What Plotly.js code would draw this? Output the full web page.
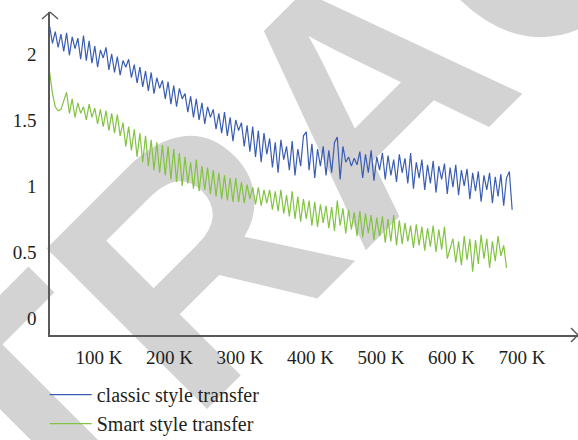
<!DOCTYPE html>
<html>
<head>
<meta charset="utf-8">
<script src="https://cdn.plot.ly/plotly-3.0.1.min.js"></script>
<style>
  html, body { margin: 0; padding: 0; background: #ffffff; }
  #wrap { position: relative; width: 578px; height: 440px; overflow: hidden; background: #ffffff; }
  #wm { position: absolute; left: 0; top: 0; width: 578px; height: 440px; }
  #chart { position: absolute; left: 0; top: 0; width: 578px; height: 440px; }
</style>
</head>
<body>
<div id="wrap">
  <svg id="wm" width="578" height="440" xmlns="http://www.w3.org/2000/svg">
    <text id="wmtext" font-family="Liberation Sans" font-weight="bold" font-size="330" fill="#d3d3d3">RETRACTED</text>
  </svg>
  <div id="chart"></div>
</div>
<script>
// Training steps (thousands)
const steps = [30,34,38,42,46,50,54,58,62,66,70,74,78,82,86,90,94,98,102,106,110,114,118,122,126,130,134,138,142,146,150,154,158,162,166,170,174,178,182,186,190,194,198,202,206,210,214,218,222,226,230,234,238,242,246,250,254,258,262,266,270,274,278,282,286,290,294,298,302,306,310,314,318,322,326,330,334,338,342,346,350,354,358,362,366,370,374,378,382,386,390,394,398,402,406,410,414,418,422,426,430,434,438,442,446,450,454,458,462,466,470,474,478,482,486,490,494,498,502,506,510,514,518,522,526,530,534,538,542,546,550,554,558,562,566,570,574,578,582,586,590,594,598,602,606,610,614,618,622,626,630,634,638,642,646,650,654,658,662,666,670,674,678,682,686];

const classicLoss = [2.21,2.08,2.17,2.05,2.15,2.02,2.16,1.99,2.13,2.04,
2.12,1.96,2.14,1.95,2.10,1.93,2.06,1.90,2.03,1.97,
2.05,1.88,2.00,1.86,1.98,1.84,1.95,1.90,1.96,1.82,
1.92,1.78,1.90,1.75,1.87,1.72,1.86,1.70,1.82,1.74,
1.80,1.66,1.79,1.62,1.76,1.60,1.74,1.66,1.70,1.56,
1.68,1.52,1.66,1.50,1.63,1.47,1.60,1.52,1.58,1.43,
1.55,1.40,1.56,1.38,1.52,1.34,1.50,1.42,1.48,1.30,
1.46,1.26,1.45,1.22,1.42,1.18,1.40,1.24,1.36,1.14,
1.33,1.10,1.35,1.20,1.30,1.12,1.34,1.08,1.28,1.15,
1.38,1.41,1.12,1.32,1.06,1.28,1.15,1.30,1.08,1.27,
1.10,1.33,1.37,1.05,1.30,1.18,1.22,1.15,1.21,1.16,
1.26,1.06,1.24,1.10,1.27,1.04,1.22,1.12,1.25,1.05,
1.23,1.08,1.20,1.03,1.24,1.10,1.21,1.02,1.25,0.98,
1.18,1.06,1.20,0.97,1.16,1.02,1.19,0.95,1.15,1.05,
1.17,0.94,1.14,0.99,1.16,0.93,1.12,1.00,1.13,0.90,
1.10,0.96,1.11,0.88,1.08,0.97,1.10,0.87,1.07,0.92,
1.09,0.85,1.06,1.11,0.82];

const smartLoss = [1.86,1.70,1.60,1.57,1.58,1.64,1.71,1.55,1.66,1.52,
1.63,1.55,1.60,1.50,1.62,1.52,1.59,1.47,1.58,1.45,
1.57,1.42,1.55,1.40,1.54,1.38,1.48,1.30,1.45,1.27,
1.43,1.22,1.40,1.18,1.38,1.15,1.35,1.12,1.33,1.10,
1.31,1.08,1.30,1.05,1.28,1.03,1.25,1.00,1.22,1.02,
1.18,0.98,1.20,0.96,1.15,0.97,1.14,0.94,1.12,0.92,
1.10,0.90,1.08,0.89,1.06,0.88,1.06,0.88,1.03,0.87,
1.01,0.90,0.99,0.86,0.99,0.85,0.97,0.87,0.97,0.82,
0.96,0.81,0.97,0.79,0.93,0.77,0.96,0.75,0.92,0.73,
0.90,0.75,0.89,0.70,0.88,0.69,0.86,0.72,0.85,0.68,
0.84,0.66,0.89,0.70,0.83,0.64,0.82,0.67,0.80,0.62,
0.81,0.61,0.79,0.64,0.78,0.59,0.76,0.62,0.77,0.57,
0.75,0.58,0.78,0.55,0.74,0.56,0.72,0.58,0.70,0.53,
0.71,0.55,0.69,0.51,0.68,0.54,0.70,0.50,0.67,0.52,
0.69,0.45,0.52,0.60,0.42,0.58,0.40,0.62,0.44,0.60,
0.35,0.59,0.41,0.63,0.45,0.60,0.38,0.58,0.43,0.62,
0.47,0.55,0.38];

const tickValues = [100,200,300,400,500,600,700];
const tickLabels = ["100 K","200 K","300 K","400 K","500 K","600 K","700 K"];
const yTickValues = [0,0.5,1,1.5,2];
const yTickLabels = ["0","0.5","1","1.5","2"];
const seriesNames = ["classic style transfer","Smart style transfer"];

// watermark placement: start of the letter "A" sits at (px, py) on a 45° baseline
(function(){
  const t = document.getElementById('wmtext');
  const px = 360, py = 256, ang = -45;
  const w = t.getSubStringLength(0, 4);
  t.setAttribute('x', px - w);
  t.setAttribute('y', py);
  t.setAttribute('transform', 'rotate(' + ang + ' ' + px + ' ' + py + ')');
})();

const serif = "Liberation Serif, Times New Roman, serif";
const axisColor = "#595959";
const textColor = "#231f20";

const traces = [
  { x: steps, y: classicLoss, type: "scatter", mode: "lines", name: seriesNames[0],
    line: { color: "#3a5db3", width: 1.2 } },
  { x: steps.slice(0, smartLoss.length), y: smartLoss, type: "scatter", mode: "lines", name: seriesNames[1],
    line: { color: "#82c341", width: 1.2 } }
];

const layout = {
  width: 578, height: 440,
  margin: { l: 50, r: 0, t: 12, b: 105, autoexpand: false },
  paper_bgcolor: "rgba(0,0,0,0)",
  plot_bgcolor: "rgba(0,0,0,0)",
  font: { family: serif, size: 19, color: textColor },
  xaxis: {
    range: [30.5, 779.4], showgrid: false, zeroline: false,
    showline: true, linecolor: axisColor, linewidth: 1.6,
    tickmode: "array", tickvals: tickValues, ticktext: tickLabels,
    ticks: "", ticklabelstandoff: 5, tickfont: { family: serif, size: 19, color: textColor }
  },
  yaxis: {
    range: [-0.129, 2.318], showgrid: false, zeroline: false,
    showline: true, linecolor: axisColor, linewidth: 1.6,
    tickmode: "array", tickvals: yTickValues, ticktext: yTickLabels,
    ticks: "", ticklabelstandoff: 8, tickfont: { family: serif, size: 19, color: textColor }
  },
  showlegend: true,
  legend: {
    x: -0.01, y: -0.124, xanchor: "left", yanchor: "top",
    orientation: "v", bgcolor: "rgba(0,0,0,0)",
    font: { family: serif, size: 20, color: textColor },
    itemwidth: 42, tracegroupgap: 0
  },
  shapes: [
    { type: "line", xref: "paper", yref: "paper", xsizemode: "pixel", ysizemode: "pixel",
      xanchor: 0, yanchor: 1, x0: 0, y0: 0, x1: -8, y1: -7, line: { color: axisColor, width: 1.4 } },
    { type: "line", xref: "paper", yref: "paper", xsizemode: "pixel", ysizemode: "pixel",
      xanchor: 0, yanchor: 1, x0: 0, y0: 0, x1: 8, y1: -7, line: { color: axisColor, width: 1.4 } },
    { type: "line", xref: "paper", yref: "paper", xsizemode: "pixel", ysizemode: "pixel",
      xanchor: 1, yanchor: 0, x0: 0, y0: 0, x1: -7, y1: 7, line: { color: axisColor, width: 1.4 } },
    { type: "line", xref: "paper", yref: "paper", xsizemode: "pixel", ysizemode: "pixel",
      xanchor: 1, yanchor: 0, x0: 0, y0: 0, x1: -7, y1: -7, line: { color: axisColor, width: 1.4 } }
  ]
};

Plotly.newPlot("chart", traces, layout, { displayModeBar: false, staticPlot: true });
</script>
</body>
</html>
